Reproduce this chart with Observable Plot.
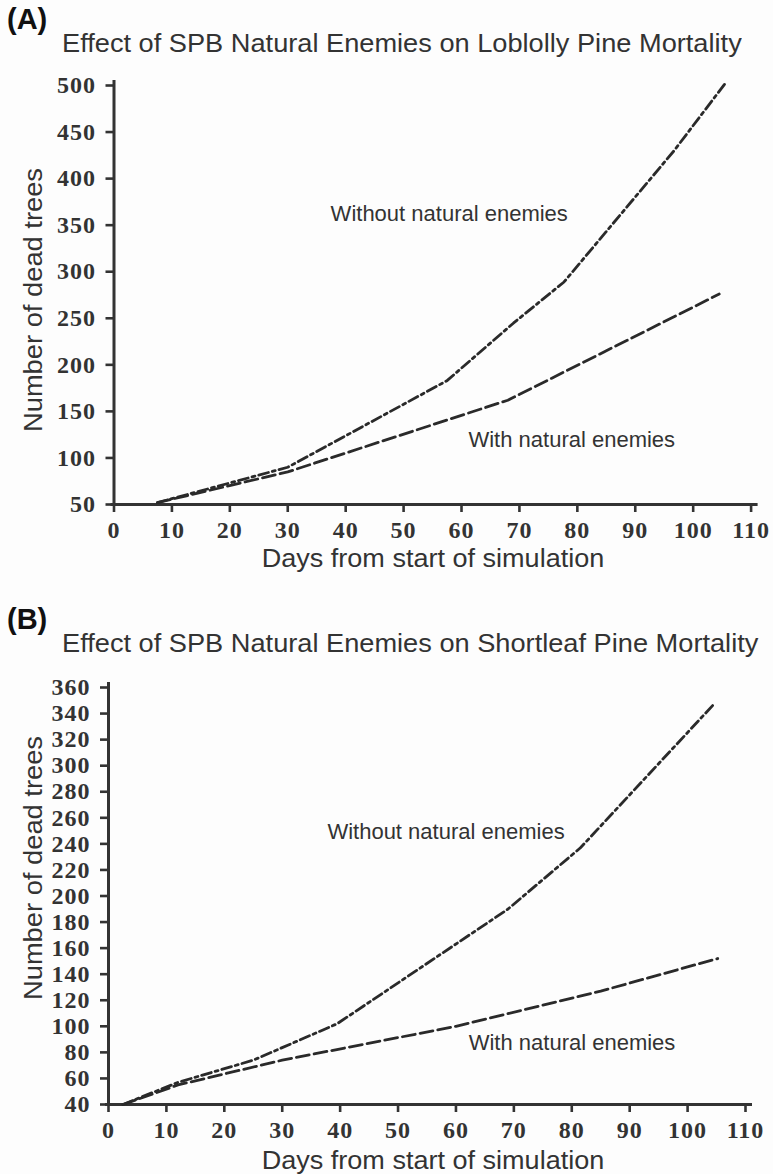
<!DOCTYPE html>
<html>
<head>
<meta charset="utf-8">
<script src="https://cdn.jsdelivr.net/npm/d3@7"></script>
<script src="https://cdn.jsdelivr.net/npm/@observablehq/plot@0.6"></script>
<style>
  body { margin: 0; background: #fdfdfd; }
  #fig { position: relative; width: 773px; height: 1174px; overflow: hidden; background: #fdfdfd;
         font-family: "Liberation Sans", Arial, sans-serif; color: #333; }
  .t { position: absolute; white-space: nowrap; line-height: 1; }
  .panel { position: absolute; left: 0; }
  .panel svg [aria-label="x-axis tick label"], .panel svg [aria-label="y-axis tick label"] {
    font-family: "Liberation Serif", "Times New Roman", serif; font-weight: bold; font-size: 24px;
    letter-spacing: 1px; fill: #333;
  }
  .panel svg [aria-label="x-axis tick"], .panel svg [aria-label="y-axis tick"] { stroke: #333; stroke-width: 2.6px; }
</style>
</head>
<body>
<div id="fig">
  <div class="t" id="tagA" style="left:7px;top:5px;font-size:29px;font-weight:bold;color:#111;">(A)</div>
  <div class="t" id="titleA" style="left:62px;top:30px;font-size:26px;transform-origin:left center;transform:scaleX(1.046);">Effect of SPB Natural Enemies on Loblolly Pine Mortality</div>
  <div class="t" id="ytitleA" style="left:33px;top:300px;font-size:26px;transform:translate(-50%,-50%) rotate(-90deg) scaleX(1.05);">Number of dead trees</div>
  <div class="t" id="xtitleA" style="left:433px;top:545px;font-size:26px;transform:translateX(-50%) scaleX(1.04);">Days from start of simulation</div>
  <div class="panel" id="panelA" style="top:60px;"></div>

  <div class="t" id="tagB" style="left:7px;top:605px;font-size:29px;font-weight:bold;color:#111;">(B)</div>
  <div class="t" id="titleB" style="left:62px;top:630px;font-size:26px;transform-origin:left center;transform:scaleX(1.046);">Effect of SPB Natural Enemies on Shortleaf Pine Mortality</div>
  <div class="t" id="ytitleB" style="left:33px;top:868px;font-size:26px;transform:translate(-50%,-50%) rotate(-90deg) scaleX(1.05);">Number of dead trees</div>
  <div class="t" id="xtitleB" style="left:433px;top:1147px;font-size:26px;transform:translateX(-50%) scaleX(1.04);">Days from start of simulation</div>
  <div class="panel" id="panelB" style="top:665px;"></div>
</div>
<script>
// ---- tick values ----
const xTicks = [0, 10, 20, 30, 40, 50, 60, 70, 80, 90, 100, 110];
const yTicksA = [50, 100, 150, 200, 250, 300, 350, 400, 450, 500];
const yTicksB = [40, 60, 80, 100, 120, 140, 160, 180, 200, 220, 240, 260, 280, 300, 320, 340, 360];

// ---- Panel A: Loblolly pine ----
const daysA_without  = [7.5, 30, 57.5, 69, 77.7, 96.7, 105.5];
const treesA_without = [52, 90, 183, 245, 289, 430, 502];
const daysA_with     = [7.5, 30, 68, 104.5];
const treesA_with    = [52, 85, 162, 276];
const labelsA = [
  {day: 37.4, trees: 362, text: "Without natural enemies"},
  {day: 61.2, trees: 119, text: "With natural enemies"}
];

// ---- Panel B: Shortleaf pine ----
const daysB_without  = [2.5, 12, 25, 39.5, 69, 81.5, 104.5];
const treesB_without = [40, 57, 74, 102, 190, 237, 347];
const daysB_with     = [2.5, 12, 30, 60, 85, 105.2];
const treesB_with    = [40, 55, 74, 100, 127, 152];
const labelsB = [
  {day: 37.8, trees: 249, text: "Without natural enemies"},
  {day: 62.2, trees: 87.6, text: "With natural enemies"}
];

const rows = (d, t) => d.map((x, i) => ({day: x, trees: t[i]}));

function panel(o) {
  return Plot.plot({
    width: 773, height: o.height,
    marginLeft: o.marginLeft, marginRight: o.marginRight,
    marginTop: o.marginTop, marginBottom: o.marginBottom,
    style: {background: "transparent", overflow: "visible"},
    x: {domain: [0, 110]},
    y: {domain: o.yDomain},
    marks: [
      Plot.axisX(xTicks, {tickSize: 8, tickPadding: 8, label: null, stroke: "#333", strokeWidth: 2.6,
        fill: "#333", fontSize: 24, fontWeight: "bold", fontFamily: "Liberation Serif"}),
      Plot.axisY(o.yTicks, {tickSize: 8, tickPadding: 10, label: null, stroke: "#333", strokeWidth: 2.6,
        fill: "#333", fontSize: 24, fontWeight: "bold", fontFamily: "Liberation Serif"}),
      Plot.ruleY([o.yDomain[0]], {stroke: "#333", strokeWidth: 3, insetLeft: -3, insetRight: -7}),
      Plot.ruleX([0], {stroke: "#333", strokeWidth: 3, insetTop: -5, insetBottom: -1.5}),
      Plot.line(rows(o.wd, o.wt), {x: "day", y: "trees", stroke: "#2a2a2a", strokeWidth: 2.8, strokeDasharray: "10,4,3,4"}),
      Plot.line(rows(o.nd, o.nt), {x: "day", y: "trees", stroke: "#2a2a2a", strokeWidth: 2.8, strokeDasharray: "13,5"}),
      Plot.text(o.labels, {x: "day", y: "trees", text: "text", textAnchor: "start", fontSize: 22,
        fill: "#333", fontFamily: "Liberation Sans"})
    ]
  });
}

document.getElementById("panelA").append(panel({
  height: 530, marginLeft: 113.5, marginRight: 22.4, marginTop: 25, marginBottom: 86,
  yDomain: [50, 500], yTicks: yTicksA,
  wd: daysA_without, wt: treesA_without, nd: daysA_with, nt: treesA_with, labels: labelsA
}));
document.getElementById("panelB").append(panel({
  height: 509, marginLeft: 108, marginRight: 28, marginTop: 22, marginBottom: 70,
  yDomain: [40, 360], yTicks: yTicksB,
  wd: daysB_without, wt: treesB_without, nd: daysB_with, nt: treesB_with, labels: labelsB
}));
</script>
</body>
</html>
